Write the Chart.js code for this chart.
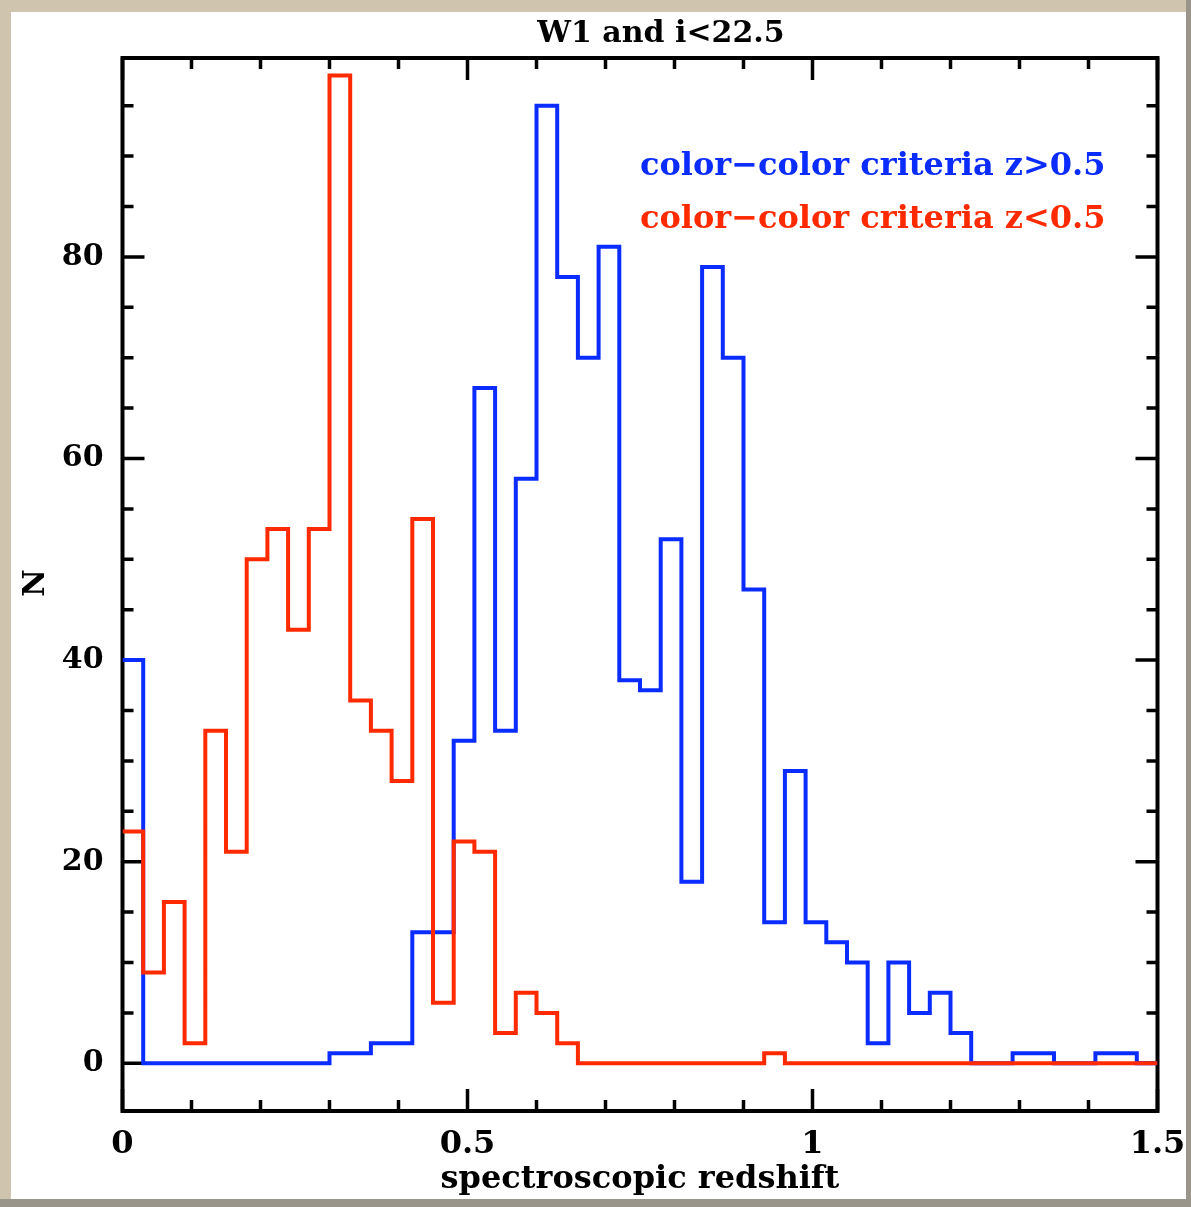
<!DOCTYPE html>
<html>
<head>
<meta charset="utf-8">
<script src="https://cdn.jsdelivr.net/npm/chart.js@4/dist/chart.umd.min.js"></script>
<style>
  html, body { margin: 0; padding: 0; background: #cfc5ae; }
  canvas { display: block; }
</style>
</head>
<body>
<canvas id="c" width="1191" height="1207"></canvas>
<script>
// ---- data ----
const titleText = "W1 and i<22.5";
const xTitle = "spectroscopic redshift";
const yTitle = "N";
const legendBlue = "color\u2212color criteria z>0.5";
const legendRed = "color\u2212color criteria z<0.5";

// lower edges of the histogram bins (bin width 0.03), plus the final upper edge
const binEdges = [0.00,0.03,0.06,0.09,0.12,0.15,0.18,0.21,0.24,0.27,
                  0.30,0.33,0.36,0.39,0.42,0.45,0.48,0.51,0.54,0.57,
                  0.60,0.63,0.66,0.69,0.72,0.75,0.78,0.81,0.84,0.87,
                  0.90,0.93,0.96,0.99,1.02,1.05,1.08,1.11,1.14,1.17,
                  1.20,1.23,1.26,1.29,1.32,1.35,1.38,1.41,1.44,1.47,1.50];

const blueCounts = [40,0,0,0,0,0,0,0,0,0,
                    1,1,2,2,13,13,32,67,33,58,
                    95,78,70,81,38,37,52,18,79,70,
                    47,14,29,14,12,10,2,10,5,7,
                    3,0,0,1,1,0,0,1,1,0];

const redCounts = [23,9,16,2,33,21,50,53,43,53,
                   98,36,33,28,54,6,22,21,3,7,
                   5,2,0,0,0,0,0,0,0,0,
                   0,1,0,0,0,0,0,0,0,0,
                   0,0,0,0,0,0,0,0,0,0];

const xMajorTicks = [0, 0.5, 1, 1.5];
const xTickLabels = ["0", "0.5", "1", "1.5"];
const xMinorTicks = [0.1,0.2,0.3,0.4,0.6,0.7,0.8,0.9,1.1,1.2,1.3,1.4];
const yMajorTicks = [0, 20, 40, 60, 80];
const yMinorTicks = [5,10,15,25,30,35,45,50,55,65,70,75,85,90,95];

function stepData(counts) {
  const pts = counts.map((v, i) => ({ x: binEdges[i], y: v }));
  pts.push({ x: binEdges[binEdges.length - 1], y: counts[counts.length - 1] });
  return pts;
}

const FONT = "'DejaVu Serif', serif";
const BLUE = "#0a2cff";
const RED = "#ff2a00";

const decor = {
  id: "decor",
  beforeDraw(chart) {
    const ctx = chart.ctx;
    ctx.save();
    ctx.fillStyle = "#cfc5ae";
    ctx.fillRect(0, 0, 1191, 1207);
    ctx.fillStyle = "#9a958a";
    ctx.fillRect(1186, 0, 5, 1207);
    ctx.fillRect(0, 1199, 1191, 8);
    ctx.fillStyle = "#ffffff";
    ctx.fillRect(11, 12, 1175, 1187);
    ctx.restore();
  },
  beforeDatasetsDraw(chart) {
    const ctx = chart.ctx;
    const a = chart.chartArea;
    const xs = chart.scales.x, ys = chart.scales.y;
    ctx.save();
    ctx.strokeStyle = "#000";
    ctx.lineWidth = 3.5;
    ctx.lineCap = "butt";
    ctx.beginPath();
    const xt = (v, len) => {
      const p = xs.getPixelForValue(v);
      ctx.moveTo(p, a.bottom); ctx.lineTo(p, a.bottom - len);
      ctx.moveTo(p, a.top); ctx.lineTo(p, a.top + len);
    };
    const yt = (v, len) => {
      const p = ys.getPixelForValue(v);
      ctx.moveTo(a.left, p); ctx.lineTo(a.left + len, p);
      ctx.moveTo(a.right, p); ctx.lineTo(a.right - len, p);
    };
    xMajorTicks.forEach(v => xt(v, 22));
    xMinorTicks.forEach(v => xt(v, 11));
    yMajorTicks.forEach(v => yt(v, 22));
    yMinorTicks.forEach(v => yt(v, 11));
    ctx.stroke();
    ctx.lineWidth = 4;
    ctx.strokeRect(a.left, a.top, a.right - a.left, a.bottom - a.top);
    ctx.restore();
  },
  afterDraw(chart) {
    const ctx = chart.ctx;
    ctx.save();
    // title
    ctx.fillStyle = "#000";
    ctx.font = "bold 30px " + FONT;
    ctx.textAlign = "center";
    ctx.textBaseline = "alphabetic";
    ctx.fillText(titleText, 661, 42);

    // x title
    ctx.font = "bold 32px " + FONT;
    ctx.fillText(xTitle, 640, 1188);

    // y title
    ctx.save();
    ctx.translate(44, 583);
    ctx.rotate(-Math.PI / 2);
    ctx.font = "bold 30px " + FONT;
    ctx.textAlign = "center";
    ctx.fillText(yTitle, 0, 0);
    ctx.restore();

    // legend texts
    ctx.textAlign = "left";
    ctx.font = "bold 32px " + FONT;
    ctx.fillStyle = BLUE;
    ctx.fillText(legendBlue, 640, 175);
    ctx.fillStyle = RED;
    ctx.fillText(legendRed, 640, 228);
    ctx.restore();
  }
};

new Chart(document.getElementById("c"), {
  type: "line",
  data: {
    datasets: [
      { label: "red", data: stepData(redCounts), borderColor: RED, borderWidth: 4,
        stepped: "before", pointRadius: 0, fill: false },
      { label: "blue", data: stepData(blueCounts), borderColor: BLUE, borderWidth: 4,
        stepped: "before", pointRadius: 0, fill: false }
    ]
  },
  options: {
    responsive: false,
    animation: false,
    devicePixelRatio: 1,
    layout: { padding: { left: 0, top: 58, right: 33.5, bottom: 0 } },
    plugins: { legend: { display: false }, title: { display: false }, tooltip: { enabled: false } },
    scales: {
      x: {
        type: "linear", min: 0, max: 1.5,
        afterBuildTicks: s => { s.ticks = xMajorTicks.map(v => ({ value: v })); },
        afterFit: s => { s.height = 96; s.paddingLeft = 0; s.paddingRight = 0; },
        ticks: {
          autoSkip: false, maxRotation: 0, padding: 14, color: "#000",
          font: { family: FONT, size: 32, weight: "bold" },
          callback: (v) => xTickLabels[xMajorTicks.indexOf(v)]
        },
        grid: { display: false, drawTicks: false },
        border: { display: false }
      },
      y: {
        type: "linear", min: -4.73, max: 99.73,
        afterBuildTicks: s => { s.ticks = yMajorTicks.map(v => ({ value: v })); },
        afterFit: s => { s.width = 122.5; s.paddingTop = 0; s.paddingBottom = 0; },
        ticks: {
          autoSkip: false, padding: 19, color: "#000",
          font: { family: FONT, size: 30, weight: "bold" },
          callback: (v) => String(v)
        },
        grid: { display: false, drawTicks: false },
        border: { display: false }
      }
    }
  },
  plugins: [decor]
});
</script>
</body>
</html>
